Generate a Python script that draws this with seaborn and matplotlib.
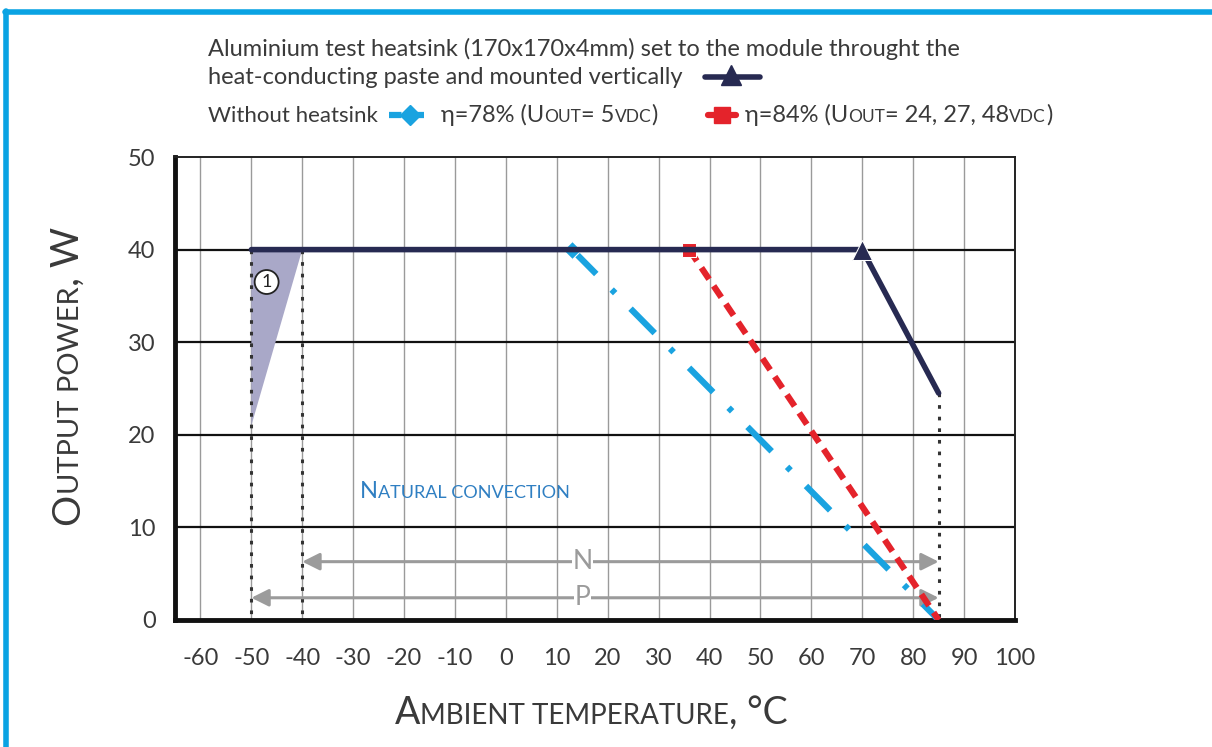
import re
import matplotlib
matplotlib.use('Agg')
import matplotlib.pyplot as plt
import seaborn as sns
import pandas as pd
from matplotlib.lines import Line2D

# ---- data ----
temp_heatsink = [-50, 70, 85]
power_heatsink = [40, 40, 24.5]
temp_78 = [13, 85]
power_78 = [40, 0]
temp_84 = [36, 85]
power_84 = [40, 0]
zone_x = [-50, -40, -50]
zone_y = [40, 40, 21]
x_ticks = list(range(-60, 101, 10))
y_ticks = list(range(0, 51, 10))

NAVY = '#272a52'
BLUE = '#1aa3e0'
RED = '#e4232b'
GREY = '#9b9b9b'
TXT = '#3a3a3a'
FRAME = '#0aa3e3'

sns.set_style('white')
plt.rcParams['font.family'] = ['Lato', 'DejaVu Sans']

W, H = 1212, 747
fig = plt.figure(figsize=(W / 100, H / 100), dpi=100)
ax = fig.add_axes([175 / W, 1 - 620 / H, 840 / W, 463 / H])

def px(x):
    return x / W

def py(y):
    return 1 - y / H

# ---- series ----
df_hs = pd.DataFrame({'t': temp_heatsink, 'p': power_heatsink})
df_78 = pd.DataFrame({'t': temp_78, 'p': power_78})
df_84 = pd.DataFrame({'t': temp_84, 'p': power_84})

ax.fill(zone_x, zone_y, color='#a9a8c8', lw=0, zorder=2)
ax.plot([-50, -50], [40, 0], color='#333333', lw=2.2, dashes=(1.2, 2.6), zorder=3)
ax.plot([-40, -40], [40, 0], color='#333333', lw=2.2, dashes=(1.2, 2.6), zorder=3)
ax.plot([85, 85], [power_heatsink[-1], 0], color='#333333', lw=2.2, dashes=(1.2, 2.6), zorder=3)

sns.lineplot(data=df_hs, x='t', y='p', ax=ax, color=NAVY, lw=4, marker='^', markersize=15,
             markevery=[1], sort=False, zorder=5)
sns.lineplot(data=df_78, x='t', y='p', ax=ax, color=BLUE, lw=4.5, marker='D', markersize=9,
             markevery=[0], dashes=(5.5, 3.5, 0.8, 3.5), sort=False, zorder=4)
sns.lineplot(data=df_84, x='t', y='p', ax=ax, color=RED, lw=4.5, marker='s', markersize=10,
             markevery=[0], dashes=(2.2, 1.3), sort=False, zorder=4)

# ---- N / P arrows ----
for y0, x_left, lab in [(6.3, -40, 'N'), (2.4, -50, 'P')]:
    ax.annotate('', xy=(x_left, y0), xytext=(85, y0),
                arrowprops=dict(arrowstyle='<|-|>', color=GREY, lw=2.2, mutation_scale=26,
                                shrinkA=0, shrinkB=0), zorder=3)
    ax.text(15, y0, lab, color=GREY, fontsize=19, ha='center', va='center', zorder=4,
            bbox=dict(facecolor='white', edgecolor='none', pad=0.3))

ax.text(-47, 36.5, '1', fontsize=13, ha='center', va='center', color='#222222', zorder=6,
        bbox=dict(boxstyle='circle,pad=0.22', facecolor='white', edgecolor='#222222', lw=1.3))

# ---- axes ----
ax.set_xlim(-65, 100)
ax.set_ylim(0, 50)
ax.set_xticks(x_ticks)
ax.set_yticks(y_ticks)
ax.set_xticklabels([str(v) for v in x_ticks])
ax.tick_params(axis='both', length=0, labelsize=17, labelcolor=TXT)
ax.tick_params(axis='x', pad=20)
ax.tick_params(axis='y', pad=14)
ax.set_xlabel('')
ax.set_ylabel('')
for v in x_ticks:
    ax.axvline(v, color='#9a9a9a', lw=1, zorder=1)
for v in y_ticks[1:-1]:
    ax.axhline(v, color='#111111', lw=1.6, zorder=1)
for side in ['left', 'bottom']:
    ax.spines[side].set_linewidth(3.5)
    ax.spines[side].set_color('#111111')
for side in ['top', 'right']:
    ax.spines[side].set_linewidth(1.4)
    ax.spines[side].set_color('#222222')

# ---- small caps helper ----
renderer = fig.canvas.get_renderer()

def smallcaps(x, y, s, big, small, color, rotation=0):
    runs = re.findall(r'[a-z]+(?: [a-z]+)*|[^a-z]+', s)
    pos = x if rotation == 0 else y
    for run in runs:
        low = re.match(r'[a-z]', run) is not None
        size = small if low else big
        txt = run.upper() if low else run
        if rotation == 0:
            fig.text(px(pos), py(y), txt, fontsize=size, color=color, ha='left', va='baseline')
        else:
            fig.text(px(x), py(pos), txt, fontsize=size, color=color, ha='left', va='baseline',
                     rotation=90, rotation_mode='anchor')
        # measure with a guard char so spaces are counted
        probe = fig.text(0, 0, txt + '|', fontsize=size)
        guard = fig.text(0, 0, '|', fontsize=size)
        w = probe.get_window_extent(renderer).width - guard.get_window_extent(renderer).width
        probe.remove()
        guard.remove()
        pos = pos + w if rotation == 0 else pos - w

smallcaps(395, 724, 'Ambient temperature, °C', 27, 20, TXT)
smallcaps(79, 525, 'Output power, W', 28, 21, TXT, rotation=90)
smallcaps(360, 498, 'Natural convection', 17, 13, '#2f7fc2')

# ---- legend block ----
fig.text(px(208), py(56), 'Aluminium test heatsink (170x170x4mm) set to the module throught the',
         fontsize=17, color=TXT, va='baseline')
fig.text(px(208), py(84), 'heat-conducting paste and mounted vertically', fontsize=17, color=TXT,
         va='baseline')
fig.text(px(208), py(122), 'Without heatsink', fontsize=16, color=TXT, va='baseline')
fig.add_artist(Line2D([px(705), px(760)], [py(77), py(77)], color=NAVY, lw=4,
                      transform=fig.transFigure))
fig.add_artist(Line2D([px(731)], [py(75)], color=NAVY, marker='^', markersize=15,
                      transform=fig.transFigure))
fig.add_artist(Line2D([px(389), px(432)], [py(115), py(115)], color=BLUE, lw=4.5,
                      dashes=(2, 1.6), transform=fig.transFigure))
fig.add_artist(Line2D([px(410)], [py(115)], color=BLUE, marker='D', markersize=10,
                      transform=fig.transFigure))
fig.add_artist(Line2D([px(708), px(736)], [py(115), py(115)], color=RED, lw=4.5,
                      transform=fig.transFigure))
fig.add_artist(Line2D([px(722)], [py(115)], color=RED, marker='s', markersize=11,
                      transform=fig.transFigure))
smallcaps(441, 122, 'η=78% (Uout= 5vdc)', 17, 12.5, TXT)
smallcaps(745, 122, 'η=84% (Uout= 24, 27, 48vdc)', 17, 12.5, TXT)

# ---- blue frame ----
fig.add_artist(Line2D([px(5), px(1212)], [py(12), py(12)], color=FRAME, lw=4,
                      transform=fig.transFigure))
fig.add_artist(Line2D([px(6), px(6)], [py(11), py(747)], color=FRAME, lw=4,
                      transform=fig.transFigure))

fig.savefig('out.png', dpi=100)
